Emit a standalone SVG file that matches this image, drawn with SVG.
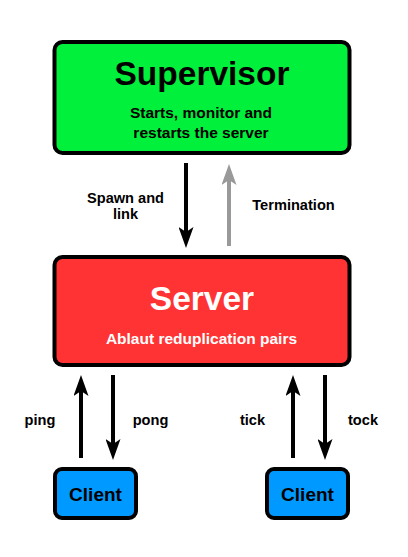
<svg xmlns="http://www.w3.org/2000/svg" width="408" height="557" viewBox="0 0 408 557">
<style>
.box{stroke:#000;stroke-width:4}
.t{font-family:"Liberation Sans",Arial,Helvetica,sans-serif;font-weight:bold;text-anchor:middle}
.lbl{font-size:14.6px;fill:#000}
.sub{font-size:15.5px}
.arr{fill:none;stroke-width:4}
</style>
<defs>
<marker id="hb" viewBox="0 0 21 15" refX="10" refY="7.5" markerWidth="21" markerHeight="15" markerUnits="userSpaceOnUse" orient="auto">
<path d="M0,0 L21,7.5 L0,15 L5,7.5 Z" fill="#000"/>
</marker>
<marker id="hg" viewBox="0 0 21 15" refX="10" refY="7.5" markerWidth="21" markerHeight="15" markerUnits="userSpaceOnUse" orient="auto">
<path d="M0,0 L21,7.5 L0,15 L5,7.5 Z" fill="#999"/>
</marker>
</defs>
<rect width="408" height="557" fill="#fff"/>
<g id="supervisor">
<rect class="box" x="54.5" y="42" width="295" height="111" rx="8" fill="#00F03C"/>
<text class="t" x="202" y="85" font-size="33.5">Supervisor</text>
<text class="t sub" x="201" y="117.5">Starts, monitor and</text>
<text class="t sub" x="201" y="138">restarts the server</text>
</g>
<g id="server">
<rect class="box" x="54.5" y="257" width="295" height="108" rx="8" fill="#FF3333"/>
<text class="t" x="202" y="310" font-size="33.5" fill="#fff">Server</text>
<text class="t sub" x="201.5" y="343.5" fill="#fff">Ablaut reduplication pairs</text>
</g>
<g id="client1">
<rect class="box" x="55" y="469" width="81" height="49" rx="7" fill="#0099FF"/>
<text class="t" x="95.5" y="501" font-size="19">Client</text>
</g>
<g id="client2">
<rect class="box" x="267" y="469" width="81" height="49" rx="7" fill="#0099FF"/>
<text class="t" x="307.5" y="501" font-size="19">Client</text>
</g>
<g id="connectors">
<path class="arr" stroke="#000" d="M186 163 V237" marker-end="url(#hb)"/>
<path class="arr" stroke="#999" d="M229 246 V175" marker-end="url(#hg)"/>
<path class="arr" stroke="#000" d="M81 458 V386" marker-end="url(#hb)"/>
<path class="arr" stroke="#000" d="M113 375 V449" marker-end="url(#hb)"/>
<path class="arr" stroke="#000" d="M293 458 V386" marker-end="url(#hb)"/>
<path class="arr" stroke="#000" d="M325 375 V449" marker-end="url(#hb)"/>
<text class="t lbl" x="125.5" y="203">Spawn and</text>
<text class="t lbl" x="125.5" y="219">link</text>
<text class="t lbl" x="293.5" y="210">Termination</text>
<text class="t lbl" x="40" y="425">ping</text>
<text class="t lbl" x="150.5" y="425">pong</text>
<text class="t lbl" x="252.5" y="425">tick</text>
<text class="t lbl" x="363" y="425">tock</text>
</g>
</svg>
